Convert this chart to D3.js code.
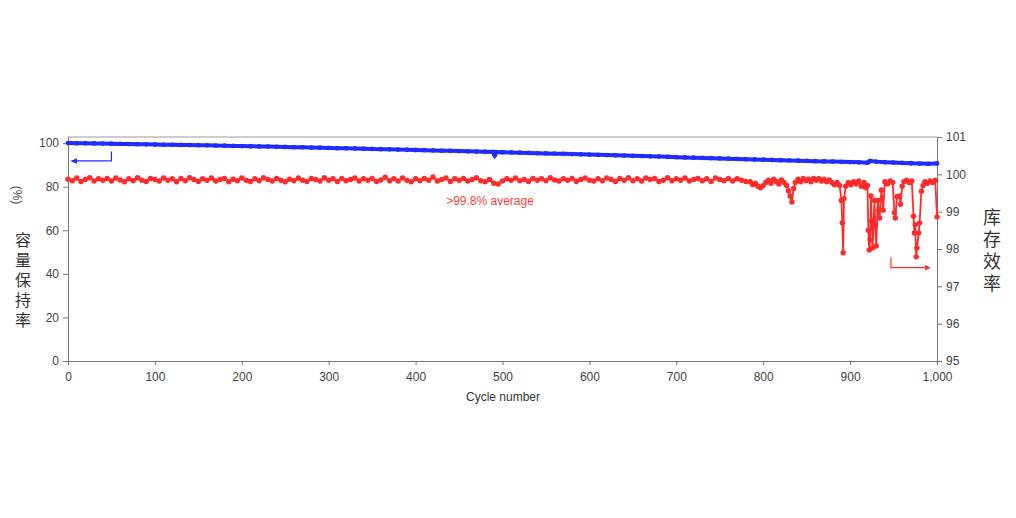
<!DOCTYPE html>
<html>
<head>
<meta charset="utf-8">
<script src="https://cdn.jsdelivr.net/npm/d3@7"></script>
<style>
    body { margin: 0; background: #fff; }
    svg { display: block; }
    .axis text { font-family: "Liberation Sans", Arial, sans-serif; font-size: 12px; fill: #444; }
    .axis path, .axis line { stroke: #777; }
    .vtitle { font-family: "Noto Sans CJK SC", sans-serif; writing-mode: vertical-rl; text-orientation: upright; fill: #333; }
</style>
</head>
<body>
<svg id="chart" width="1016" height="518"></svg>
<script>
// capacity retention (%) - blue, left axis
const blueCycles = [0, 10, 20, 30, 40, 50, 60, 70, 80, 90,
    100, 110, 120, 130, 140, 150, 160, 170, 180, 190,
    200, 210, 220, 230, 240, 250, 260, 270, 280, 290,
    300, 310, 320, 330, 340, 350, 360, 370, 380, 390,
    400, 410, 420, 430, 440, 450, 460, 470, 480, 489, 491, 493,
    500, 510, 520, 530, 540, 550, 560, 570, 580, 590,
    600, 610, 620, 630, 640, 650, 660, 670, 680, 690,
    700, 710, 720, 730, 740, 750, 760, 770, 780, 790,
    800, 810, 820, 830, 840, 850, 860, 870, 880, 890,
    900, 910, 920, 923, 930, 940, 950, 960, 970, 980, 990, 1000];
const blueValues = [100.0, 99.95, 99.9, 99.83, 99.76, 99.7, 99.63, 99.57, 99.5, 99.43,
    99.36, 99.3, 99.23, 99.16, 99.1, 99.03, 98.96, 98.88, 98.8, 98.72,
    98.64, 98.56, 98.48, 98.4, 98.31, 98.23, 98.14, 98.05, 97.96, 97.87,
    97.78, 97.69, 97.6, 97.5, 97.41, 97.32, 97.22, 97.13, 97.03, 96.94,
    96.84, 96.74, 96.64, 96.54, 96.44, 96.34, 96.24, 96.13, 96.03, 95.95, 94.4, 95.9,
    95.8, 95.7, 95.6, 95.5, 95.39, 95.28, 95.17, 95.06, 94.95, 94.84,
    94.73, 94.62, 94.5, 94.39, 94.27, 94.16, 94.04, 93.92, 93.8, 93.68,
    93.56, 93.44, 93.32, 93.2, 93.08, 92.96, 92.84, 92.72, 92.6, 92.48,
    92.36, 92.25, 92.14, 92.03, 91.92, 91.81, 91.7, 91.6, 91.5, 91.4,
    91.3, 91.2, 91.0, 91.8, 91.5, 91.25, 91.05, 90.9, 90.75, 90.6, 90.5, 90.65];

// coulombic efficiency (%) - red, right axis
const redCycles = [0, 5, 10, 15, 20, 25, 30, 35, 40, 45,
    50, 55, 60, 65, 70, 75, 80, 85, 90, 95,
    100, 105, 110, 115, 120, 125, 130, 135, 140, 145,
    150, 155, 160, 165, 170, 175, 180, 185, 190, 195,
    200, 205, 210, 215, 220, 225, 230, 235, 240, 245,
    250, 255, 260, 265, 270, 275, 280, 285, 290, 295,
    300, 305, 310, 315, 320, 325, 330, 335, 340, 345,
    350, 355, 360, 365, 370, 375, 380, 385, 390, 395,
    400, 405, 410, 415, 420, 425, 430, 435, 440, 445,
    450, 455, 460, 465, 470, 475, 480, 485, 490, 495,
    500, 505, 510, 515, 520, 525, 530, 535, 540, 545,
    550, 555, 560, 565, 570, 575, 580, 585, 590, 595,
    600, 605, 610, 615, 620, 625, 630, 635, 640, 645,
    650, 655, 660, 665, 670, 675, 680, 685, 690, 695,
    700, 705, 710, 715, 720, 725, 730, 735, 740, 745,
    750, 755, 760, 765, 770, 775, 780,
    785, 788, 791, 794, 797, 800, 803, 806, 809, 812, 815, 818, 821, 824, 827, 829, 831, 833, 835, 837,
    840, 843, 846, 849, 852, 855, 858, 861, 864, 867, 870, 873, 876, 879, 882, 885, 888, 890, 891, 892,
    893, 895, 898, 901, 904, 907, 910, 913, 916, 918, 920, 921, 922, 923, 924, 925, 926, 928, 929, 930,
    932, 933, 934, 936, 937, 938, 940, 943, 946, 949, 951, 952, 954, 957, 958, 960, 962, 965, 968, 971,
    973, 974, 975, 976, 977, 979, 980, 982, 984, 986, 989, 992, 995, 998, 1000];
const redValues = [99.87, 99.83, 99.90, 99.81, 99.86, 99.91, 99.82, 99.88, 99.84, 99.89,
    99.82, 99.90, 99.85, 99.80, 99.88, 99.83, 99.91, 99.84, 99.81, 99.89,
    99.86, 99.82, 99.90, 99.84, 99.88, 99.80, 99.89, 99.83, 99.91, 99.86,
    99.81, 99.88, 99.84, 99.90, 99.82, 99.86, 99.89, 99.80, 99.87, 99.83,
    99.90, 99.84, 99.81, 99.88, 99.83, 99.91, 99.86, 99.82, 99.89, 99.84,
    99.80, 99.87, 99.83, 99.90, 99.84, 99.81, 99.89, 99.86, 99.82, 99.91,
    99.84, 99.88, 99.81, 99.89, 99.83, 99.86, 99.90, 99.82, 99.88, 99.84,
    99.89, 99.81, 99.85, 99.92, 99.83, 99.88, 99.82, 99.90, 99.84, 99.80,
    99.88, 99.83, 99.89, 99.84, 99.93, 99.82, 99.86, 99.90, 99.81, 99.88,
    99.84, 99.89, 99.82, 99.86, 99.91, 99.83, 99.80, 99.86, 99.76, 99.74,
    99.82, 99.88, 99.84, 99.90, 99.83, 99.86, 99.81, 99.89, 99.84, 99.88,
    99.83, 99.91, 99.85, 99.82, 99.88, 99.84, 99.89, 99.81, 99.86, 99.90,
    99.84, 99.82, 99.88, 99.83, 99.90, 99.86, 99.81, 99.89, 99.84, 99.91,
    99.83, 99.88, 99.82, 99.90, 99.86, 99.89, 99.81, 99.84, 99.91, 99.83,
    99.88, 99.84, 99.90, 99.82, 99.86, 99.89, 99.83, 99.88, 99.81, 99.90,
    99.86, 99.83, 99.89, 99.82, 99.88, 99.84, 99.81,
    99.80, 99.72, 99.76, 99.68, 99.64, 99.70, 99.78, 99.84, 99.76, 99.87, 99.81, 99.74, 99.85, 99.78, 99.70, 99.56, 99.42, 99.26, 99.62, 99.78,
    99.87, 99.80, 99.89, 99.83, 99.87, 99.80, 99.89, 99.84, 99.88, 99.82, 99.87, 99.80, 99.85, 99.78, 99.72, 99.78, 99.70, 99.30, 98.70, 97.90,
    99.35, 99.68, 99.78, 99.72, 99.80, 99.74, 99.82, 99.68, 99.78, 99.64, 99.70, 98.50, 97.97, 98.24, 99.42, 98.75, 98.03, 99.30, 98.65, 98.08,
    99.30, 99.04, 98.83, 99.58, 99.37, 99.04, 99.80, 99.74, 99.82, 99.78, 98.97, 98.83, 99.40, 99.42, 99.20, 99.68, 99.80, 99.84, 99.78, 99.82,
    98.88, 98.43, 98.65, 97.79, 98.03, 98.43, 98.70, 99.55, 99.70, 99.80, 99.76, 99.82, 99.78, 99.84, 98.86];

const leftTicks = [0, 20, 40, 60, 80, 100];
const rightTicks = [95, 96, 97, 98, 99, 100, 101];
const xTicks = [0, 100, 200, 300, 400, 500, 600, 700, 800, 900, 1000];

const margin = { left: 68, right: 937, top: 137, bottom: 361 };
const svg = d3.select("#chart");

const x = d3.scaleLinear().domain([0, 1000]).range([margin.left, margin.right]);
const yL = d3.scaleLinear().domain([0, 102.8]).range([margin.bottom, margin.top]);
const yR = d3.scaleLinear().domain([95, 101]).range([margin.bottom, margin.top]);

// frame top line
svg.append("line")
    .attr("x1", margin.left).attr("x2", margin.right)
    .attr("y1", margin.top).attr("y2", margin.top)
    .attr("stroke", "#999");

// axes
svg.append("g").attr("class", "axis")
    .attr("transform", "translate(0," + margin.bottom + ")")
    .call(d3.axisBottom(x).tickValues(xTicks).tickFormat(d3.format(",")).tickSize(4).tickSizeOuter(0))
    .selectAll("text").attr("dy", "1.1em");

svg.append("g").attr("class", "axis")
    .attr("transform", "translate(" + margin.left + ",0)")
    .call(d3.axisLeft(yL).tickValues(leftTicks).tickSize(5).tickSizeOuter(0))
    .selectAll("text").attr("x", -9);

svg.append("g").attr("class", "axis")
    .attr("transform", "translate(" + margin.right + ",0)")
    .call(d3.axisRight(yR).tickValues(rightTicks).tickFormat(d3.format("d")).tickSize(5).tickSizeOuter(0))
    .selectAll("text").attr("x", 9);

// blue series
const blue = blueCycles.map(function (c, i) { return [c, blueValues[i]]; });
svg.append("path")
    .datum(blue)
    .attr("fill", "none")
    .attr("stroke", "#1f2bff")
    .attr("stroke-width", 4)
    .attr("d", d3.line().x(function (d) { return x(d[0]); }).y(function (d) { return yL(d[1]); }));
svg.append("g").selectAll("circle")
    .data(blue).enter().append("circle")
    .attr("cx", function (d) { return x(d[0]); })
    .attr("cy", function (d) { return yL(d[1]); })
    .attr("r", 2.4)
    .attr("fill", "#1f2bff");

// red series
const red = redCycles.map(function (c, i) { return [c, redValues[i]]; });
svg.append("path")
    .datum(red)
    .attr("fill", "none")
    .attr("stroke", "#ff2a2a")
    .attr("stroke-width", 1.8)
    .attr("d", d3.line().x(function (d) { return x(d[0]); }).y(function (d) { return yR(d[1]); }));
svg.append("g").selectAll("circle")
    .data(red).enter().append("circle")
    .attr("cx", function (d) { return x(d[0]); })
    .attr("cy", function (d) { return yR(d[1]); })
    .attr("r", 2.7)
    .attr("fill", "#ff2a2a");

// arrows
const defs = svg.append("defs");
[["blueHead", "#1f2bff"], ["redHead", "#ff2a2a"]].forEach(function (m) {
    defs.append("marker").attr("id", m[0])
        .attr("viewBox", "0 0 10 10").attr("refX", 9).attr("refY", 5)
        .attr("markerWidth", 5).attr("markerHeight", 5).attr("orient", "auto")
        .append("path").attr("d", "M0,0L10,5L0,10Z").attr("fill", m[1]);
});
svg.append("path")
    .attr("d", "M" + x(50) + "," + yL(96.2) + "V" + yL(91.8) + "H" + x(4))
    .attr("fill", "none").attr("stroke", "#1f2bff").attr("stroke-width", 1.2)
    .attr("marker-end", "url(#blueHead)");
svg.append("path")
    .attr("d", "M" + x(947) + "," + yR(97.77) + "V" + yR(97.5) + "H" + x(992))
    .attr("fill", "none").attr("stroke", "#ff2a2a").attr("stroke-width", 1.2)
    .attr("marker-end", "url(#redHead)");

// labels
svg.append("text")
    .attr("x", 490).attr("y", 205)
    .attr("text-anchor", "middle")
    .style("font-family", "Liberation Sans, Arial, sans-serif")
    .style("font-size", "12px")
    .attr("fill", "#ff4040")
    .text(">99.8% average");

svg.append("text")
    .attr("x", 503).attr("y", 401)
    .attr("text-anchor", "middle")
    .style("font-family", "Liberation Sans, Arial, sans-serif")
    .style("font-size", "12px")
    .attr("fill", "#333")
    .text("Cycle number");

svg.append("text")
    .attr("transform", "translate(13,195) rotate(90)")
    .attr("text-anchor", "middle")
    .style("font-family", "Liberation Sans, Arial, sans-serif")
    .style("font-size", "12px")
    .attr("fill", "#444")
    .text("(%)");

// vertical Chinese axis titles
svg.append("text")
    .attr("class", "vtitle")
    .attr("x", 23).attr("y", 232)
    .style("font-size", "16px")
    .style("letter-spacing", "4px")
    .text("容量保持率");

svg.append("text")
    .attr("class", "vtitle")
    .attr("x", 992).attr("y", 208)
    .style("font-size", "18px")
    .style("letter-spacing", "4px")
    .text("库存效率");
</script>
</body>
</html>
